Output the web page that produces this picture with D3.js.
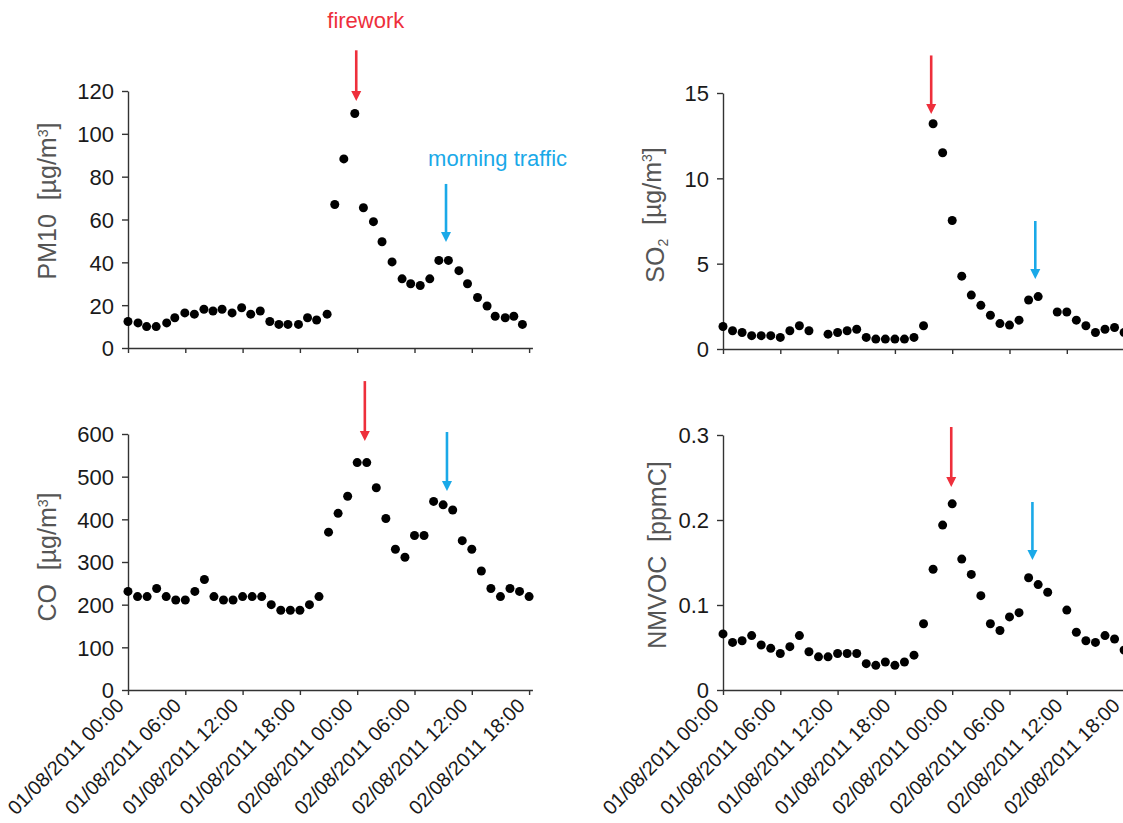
<!DOCTYPE html>
<html>
<head>
<meta charset="utf-8">
<script src="https://cdn.jsdelivr.net/npm/d3@7"></script>
<style>
  body { margin: 0; background: #fff; }
  svg { display: block; font-family: "Liberation Sans", Arial, sans-serif; }
</style>
</head>
<body>
<svg id="chart" width="1123" height="823"></svg>
<script>
// hours after 01/08/2011 00:00
var tickHours = [0, 6, 12, 18, 24, 30, 36, 42];
var tickLabels = ["01/08/2011 00:00", "01/08/2011 06:00", "01/08/2011 12:00", "01/08/2011 18:00",
                  "02/08/2011 00:00", "02/08/2011 06:00", "02/08/2011 12:00", "02/08/2011 18:00"];

var pm10Hours = [0, 1.05, 1.95, 2.95, 4.05, 4.9, 5.95, 6.95, 7.95, 8.9, 9.85, 10.9, 11.9, 12.85, 13.85,
                 14.85, 15.8, 16.75, 17.85, 18.8, 19.75, 20.85, 21.65, 22.6, 23.75, 24.65, 25.7, 26.6,
                 27.65, 28.7, 29.6, 30.6, 31.6, 32.55, 33.55, 34.65, 35.55, 36.6, 37.6, 38.45, 39.5, 40.4, 41.3];
var pm10Values = [12.4, 11.7, 10.0, 10.0, 11.7, 14.1, 16.4, 15.8, 18.1, 17.3, 18.1, 16.4, 18.8, 15.8, 17.3,
                  12.4, 11.0, 11.0, 11.0, 14.1, 13.1, 15.8, 67.0, 88.3, 109.5, 65.5, 59.0, 49.6,
                  40.2, 32.3, 30.0, 29.2, 32.3, 40.9, 40.9, 36.1, 30.0, 23.6, 19.6, 14.8, 14.1, 14.8, 11.0];

var so2Hours = [0, 1, 2, 3, 4, 5, 6, 7, 8, 9, 11, 12, 13, 14, 15, 16, 17, 18, 19, 20, 21, 22, 23, 24,
                25, 26, 27, 28, 29, 30, 31, 32, 33, 35, 36, 37, 38, 39, 40, 41, 42];
var so2Values = [1.32, 1.07, 0.97, 0.78, 0.78, 0.78, 0.68, 1.07, 1.36, 1.07, 0.87, 0.97, 1.07, 1.16,
                 0.68, 0.58, 0.58, 0.58, 0.58, 0.68, 1.36, 13.2, 11.5, 7.53, 4.27, 3.16, 2.56, 1.98,
                 1.49, 1.40, 1.69, 2.87, 3.07, 2.17, 2.17, 1.69, 1.36, 0.97, 1.16, 1.26, 0.97];

var coHours = [0, 1, 2, 3, 4, 5, 6, 7, 8, 9, 10, 11, 12, 13, 14, 15, 16, 17, 18, 19, 20, 21,
               22, 23, 24, 25, 26, 27, 28, 29, 30, 31, 32, 33, 34, 35, 36, 37, 38, 39, 40, 41, 42];
var coValues = [231, 219, 219, 238, 219, 211, 211, 231, 259, 219, 211, 211, 219, 219, 219, 200, 187,
                187, 187, 200, 219, 370, 414, 454, 533, 533, 474, 402, 330, 311, 362, 362, 442,
                434, 422, 350, 330, 279, 238, 219, 238, 231, 219];

var nmvocHours = [0, 1, 2, 3, 4, 5, 6, 7, 8, 9, 10, 11, 12, 13, 14, 15, 16, 17, 18, 19, 20, 21,
                  22, 23, 24, 25, 26, 27, 28, 29, 30, 31, 32, 33, 34, 36, 37, 38, 39, 40, 41, 42];
var nmvocValues = [0.066, 0.056, 0.058, 0.064, 0.053, 0.049, 0.043, 0.051, 0.064, 0.045, 0.039,
                   0.039, 0.043, 0.043, 0.043, 0.031, 0.029, 0.033, 0.029, 0.033, 0.041, 0.078,
                   0.142, 0.194, 0.219, 0.154, 0.136, 0.111, 0.078, 0.070, 0.086, 0.091, 0.132,
                   0.124, 0.115, 0.094, 0.068, 0.058, 0.056, 0.064, 0.060, 0.047];

var red = "#ee2f3b", blue = "#1aa9e8";

// arrows: hour, value at top, value at tip
var panels = [
	{ hours: pm10Hours, values: pm10Values, yMax: 120, yTicks: [0, 20, 40, 60, 80, 100, 120], fmt: d3.format("d"),
	  left: 128, top: 91, bottom: 348, dates: false, title: ["PM10", "", "[µg/m", "3", "]"], titleX: 56, titleY: 201,
	  arrows: [{ h: 23.9, from: 139, to: 115.3, c: red }, { h: 33.3, from: 76.6, to: 49.5, c: blue }],
	  notes: [{ h: 24.9, v: 149.5, text: "firework", c: red }, { h: 38.7, v: 85, text: "morning traffic", c: blue }] },
	{ hours: so2Hours, values: so2Values, yMax: 15, yTicks: [0, 5, 10, 15], fmt: d3.format("d"),
	  left: 723, top: 93, bottom: 349, dates: false, title: ["SO", "2", "[µg/m", "3", "]"], titleX: 664, titleY: 215,
	  arrows: [{ h: 21.8, from: 17.2, to: 13.77, c: red }, { h: 32.7, from: 7.5, to: 4.1, c: blue }],
	  notes: [] },
	{ hours: coHours, values: coValues, yMax: 600, yTicks: [0, 100, 200, 300, 400, 500, 600], fmt: d3.format("d"),
	  left: 128, top: 434, bottom: 690, dates: true, title: ["CO", "", "[µg/m", "3", "]"], titleX: 56, titleY: 557,
	  arrows: [{ h: 24.8, from: 724, to: 583.6, c: red }, { h: 33.4, from: 604.7, to: 466.4, c: blue }],
	  notes: [] },
	{ hours: nmvocHours, values: nmvocValues, yMax: 0.3, yTicks: [0, 0.1, 0.2, 0.3], fmt: function(d) { return d === 0 ? "0" : d3.format(".1f")(d); },
	  left: 723, top: 435, bottom: 690, dates: true, title: ["NMVOC", "", "[ppmC]", "", ""], titleX: 666, titleY: 555,
	  arrows: [{ h: 23.9, from: 0.3094, to: 0.2388, c: red }, { h: 32.4, from: 0.2212, to: 0.1529, c: blue }],
	  notes: [] }
];

var svg = d3.select("#chart");
var pxPerHour = 9.55, xMax = 42.35;

panels.forEach(function(p) {
	var x = d3.scaleLinear().domain([0, xMax]).range([p.left, p.left + xMax * pxPerHour]);
	var y = d3.scaleLinear().domain([0, p.yMax]).range([p.bottom, p.top]);
	var g = svg.append("g");

	// y axis
	var ya = g.append("g")
		.attr("transform", "translate(" + p.left + ",0)")
		.call(d3.axisLeft(y).tickValues(p.yTicks).tickFormat(p.fmt).tickSize(6).tickSizeOuter(0).tickPadding(8));
	ya.selectAll("text").style("font-size", "22px").style("fill", "#1a1a1a").attr("dy", "0.36em");

	// x axis
	var xa = g.append("g")
		.attr("transform", "translate(0," + p.bottom + ")")
		.call(d3.axisBottom(x).tickValues(tickHours).tickFormat("").tickSize(5).tickSizeOuter(0));
	ya.selectAll("path, line").style("stroke", "#333").style("stroke-width", 1.4);
	xa.selectAll("path, line").style("stroke", "#333").style("stroke-width", 1.4);

	// rotated date labels, only under the lower row
	if (p.dates) {
		g.append("g").selectAll("text")
			.data(tickHours)
			.enter().append("text")
				.attr("transform", function(d) { return "translate(" + (x(d) - 3) + "," + (p.bottom + 17) + ") rotate(-45)"; })
				.attr("text-anchor", "end")
				.style("font-size", "20px")
				.style("fill", "#1a1a1a")
				.text(function(d, i) { return tickLabels[i]; });
	}

	// axis title
	var t = g.append("text")
		.attr("transform", "translate(" + p.titleX + "," + p.titleY + ") rotate(-90)")
		.attr("text-anchor", "middle")
		.style("font-size", "25px")
		.style("fill", "#555");
	t.append("tspan").text(p.title[0]);
	if (p.title[1]) t.append("tspan").attr("dy", "0.3em").style("font-size", "14px").text(p.title[1]);
	t.append("tspan").attr("dx", "0.55em").attr("dy", p.title[1] ? "-0.3em" : 0).text(p.title[2]);
	if (p.title[3]) t.append("tspan").attr("dy", "-0.6em").style("font-size", "14px").text(p.title[3]);
	if (p.title[4]) t.append("tspan").attr("dy", p.title[3] ? "0.35em" : 0).text(p.title[4]);

	// points
	g.append("g").selectAll("circle")
		.data(p.values)
		.enter().append("circle")
			.attr("cx", function(d, i) { return x(p.hours[i]); })
			.attr("cy", function(d) { return y(d); })
			.attr("r", 4.5)
			.attr("fill", "#000");

	// arrows
	p.arrows.forEach(function(a) {
		var ax = x(a.h), y1 = y(a.from), y2 = y(a.to);
		g.append("line")
			.attr("x1", ax).attr("x2", ax)
			.attr("y1", y1).attr("y2", y2 - 8)
			.style("stroke", a.c).style("stroke-width", 2.6);
		g.append("path")
			.attr("d", "M" + (ax - 5) + "," + (y2 - 10) + "L" + (ax + 5) + "," + (y2 - 10) + "L" + ax + "," + y2 + "Z")
			.style("fill", a.c);
	});

	p.notes.forEach(function(n) {
		g.append("text")
			.attr("x", x(n.h)).attr("y", y(n.v))
			.attr("text-anchor", "middle")
			.style("font-size", "22px")
			.style("fill", n.c)
			.text(n.text);
	});
});
</script>
</body>
</html>
